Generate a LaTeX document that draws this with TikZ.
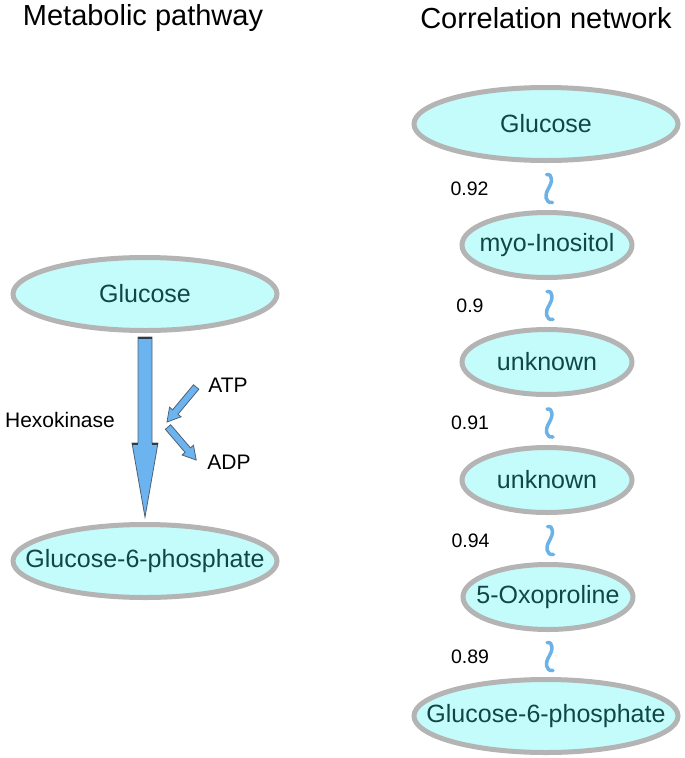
\documentclass[tikz,border=0pt]{standalone}
\usepackage{fontspec}
\setmainfont{Liberation Sans}
\usetikzlibrary{shapes.geometric,calc}

\definecolor{cellfill}{RGB}{196,252,252}
\definecolor{cellrim}{RGB}{180,180,180}
\definecolor{celltext}{RGB}{18,70,70}
\definecolor{flux}{RGB}{108,180,240}
\definecolor{fluxrim}{RGB}{80,95,115}
\definecolor{fluxcap}{RGB}{50,58,68}
\definecolor{corr}{RGB}{106,178,232}

\newcommand{\metab}[1]{\makebox[0pt]{#1}}
% block arrow from #1 to #2
\newcommand{\blockarrow}[2]{%
  \coordinate (ba) at ($(#2)!13pt!(#1)$);
  \draw[flow] ($(#1)!3.5pt!90:(#2)$) -- ($(ba)!3.5pt!-90:(#1)$) -- ($(ba)!7.5pt!-90:(#1)$)
    -- (#2) -- ($(ba)!7.5pt!90:(#1)$) -- ($(ba)!3.5pt!90:(#1)$) -- ($(#1)!3.5pt!-90:(#2)$) -- cycle;}

\begin{document}
\begin{tikzpicture}[x=1pt,y=1pt,
    every node/.style={inner sep=0pt},
    metbig/.style={ellipse,draw=cellrim,line width=5pt,fill=cellfill,text=celltext,
      minimum width=264pt,minimum height=73pt,font=\fontsize{25}{30}\selectfont},
    metsmall/.style={metbig,minimum width=170pt,minimum height=65pt},
    heading/.style={font=\fontsize{29}{35}\selectfont},
    note/.style={font=\fontsize{21}{25}\selectfont},
    weight/.style={font=\fontsize{19.5}{24}\selectfont},
    wavy/.style={draw=corr,line width=3.5pt,line cap=round},
    flow/.style={draw=fluxrim,line width=0.8pt,fill=flux,line join=miter}]
\useasboundingbox (0,0) rectangle (685,-758);

\node[heading] (titleL) at (143,-18) {Metabolic pathway};
\node[heading] (titleR) at (546,-18) {Correlation network};

% pathway
\node[metbig] (glcL) at (145,-294) {\metab{Glucose}};
\node[metbig] (g6pL) at (145,-561) {\metab{Glucose-6-phosphate}};
\node[note] (hk) at (60,-420) {Hexokinase};
\node[note] (atp) at (228,-385) {ATP};
\node[note] (adp) at (229,-462) {ADP};

\coordinate (hxTop) at ($(glcL.south)+(0,-4)$);
\coordinate (hxTip) at ($(g6pL.north)+(0,5)$);
\draw[flow] ($(hxTop)+(-7,0)$) -- ($(hxTip)+(-7,74)$) -- ($(hxTip)+(-13,74)$) -- (hxTip)
  -- ($(hxTip)+(13,74)$) -- ($(hxTip)+(7,74)$) -- ($(hxTop)+(7,0)$) -- cycle;
\draw[fluxcap,line width=2.4pt] ($(hxTop)+(-7.4,-1.2)$) -- ($(hxTop)+(7.4,-1.2)$);
\draw[fluxcap,line width=2.4pt] ($(hxTip)+(-13.4,73)$) -- ($(hxTip)+(-6.6,73)$);
\draw[fluxcap,line width=2.4pt] ($(hxTip)+(6.6,73)$) -- ($(hxTip)+(13.4,73)$);

\coordinate (atpFrom) at ($(atp.west)+(-12,-2)$);
\coordinate (atpTo) at (167,-422);
\coordinate (adpFrom) at (168,-427);
\coordinate (adpTo) at ($(adp.west)+(-11,2)$);
\blockarrow{atpFrom}{atpTo}
\blockarrow{adpFrom}{adpTo}

% correlation network
\node[metbig] (glcR) at (546,-124) {\metab{Glucose}};
\node[metsmall] (myo) at (547,-245) {\metab{myo-Inositol}};
\node[metsmall] (unkA) at (547,-362) {\metab{unknown}};
\node[metsmall] (unkB) at (547,-480) {\metab{unknown}};
\node[metsmall] (oxo) at (548,-597) {\metab{5-Oxoproline}};
\node[metbig] (g6pR) at (546,-716) {\metab{Glucose-6-phosphate}};

\foreach \u/\v/\r in {glcR/myo/0.92,myo/unkA/0.9,unkA/unkB/0.91,unkB/oxo/0.94,oxo/g6pR/0.89}{
  \coordinate (mid) at ($(\u.south)!0.5!(\v.north)+(2,-2)$);
  \draw[wavy] ($(mid)+(-2,14)$) .. controls ($(mid)+(4.5,15)$) and ($(mid)+(4,6)$) .. (mid)
    .. controls ($(mid)+(-4,-6)$) and ($(mid)+(-3.5,-15)$) .. ($(mid)+(4,-14)$);
  \node[weight] (wt-\u) at ($(mid)+(-79,0)$) {\r};
}
\end{tikzpicture}
\end{document}
